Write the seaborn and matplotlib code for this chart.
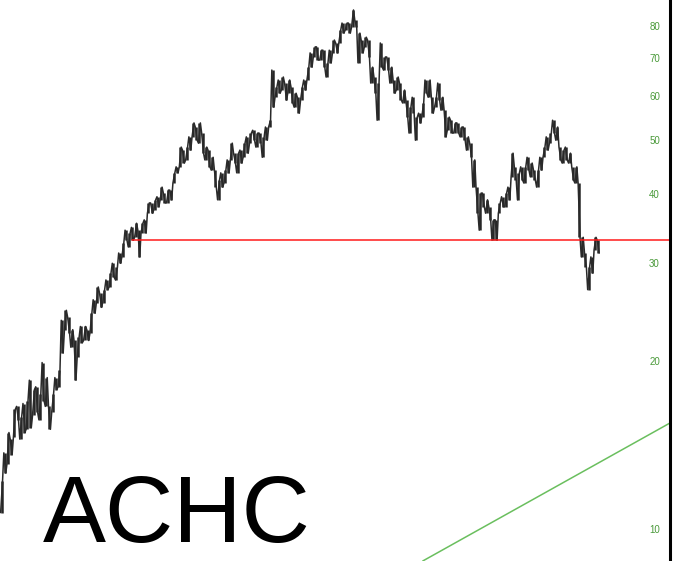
import numpy as np
import pandas as pd
import matplotlib
matplotlib.use("Agg")
import matplotlib.pyplot as plt
from matplotlib.ticker import FixedLocator, NullLocator
import seaborn as sns

# Precio (escala log) - maximos y minimos por barra
highs = [12.2, 13.7, 14.9, 14.5, 16.4, 16.6, 15.9, 16.8, 17.0, 18.5,
         17.8, 18.0, 17.5, 19.9, 18.7, 16.6, 17.5, 18.7, 19.3, 23.7,
         24.7, 24.0, 22.8, 21.8, 22.1, 23.1, 23.1, 22.8, 24.4, 25.8,
         27.2, 26.5, 26.9, 28.0, 28.8, 30.0, 29.5, 31.3, 32.6, 34.4,
         34.0, 34.8, 35.4, 34.4, 35.4, 35.9, 38.5, 38.5, 39.0, 39.5,
         41.1, 40.1, 40.6, 40.6, 43.6, 44.7, 48.5, 47.9, 48.5, 50.6,
         53.6, 52.7, 53.6, 51.4, 48.5, 47.9, 46.5, 44.1, 42.3, 43.6,
         44.1, 46.0, 49.3, 47.3, 47.3, 47.9, 49.3, 50.6, 51.4, 52.0,
         51.4, 51.4, 50.6, 52.7, 54.2, 66.7, 62.2, 64.0, 64.8, 63.2,
         64.0, 62.2, 60.6, 59.6, 62.2, 64.0, 67.5, 71.6, 73.4, 73.4,
         72.4, 72.4, 68.7, 72.4, 75.5, 74.6, 78.7, 81.0, 81.0, 81.0,
         85.5, 82.0, 77.7, 75.5, 76.4, 75.5, 67.5, 64.8, 63.2, 74.6,
         70.4, 70.4, 67.5, 64.0, 64.8, 63.2, 61.4, 58.9, 57.2, 59.6,
         54.9, 55.8, 58.2, 64.0, 64.0, 59.6, 59.6, 63.2, 59.6, 56.5,
         54.9, 54.2, 53.6, 53.6, 52.7, 52.7, 50.6, 49.3, 46.0, 41.1,
         40.1, 40.1, 39.0, 37.9, 35.9, 35.9, 38.5, 39.5, 40.1, 41.1,
         47.3, 44.7, 43.6, 44.7, 44.7, 46.5, 45.4, 44.1, 44.1, 46.5,
         48.5, 50.6, 51.4, 54.2, 52.7, 48.5, 47.9, 48.5, 47.3, 44.7,
         44.7, 41.8, 33.4, 31.3, 29.5, 30.8, 33.4, 33.0]
lows = [10.7, 12.6, 13.1, 13.6, 14.6, 15.7, 14.5, 14.9, 15.1, 15.2,
        16.0, 16.2, 15.7, 17.0, 16.6, 15.1, 16.2, 17.8, 18.0, 20.7,
        22.8, 22.5, 21.2, 18.5, 20.4, 21.6, 21.8, 21.8, 22.5, 24.4,
        25.5, 25.0, 25.5, 26.9, 27.2, 28.3, 28.0, 30.0, 30.8, 33.0,
        32.1, 33.0, 33.4, 30.8, 34.0, 34.0, 36.9, 36.9, 37.4, 37.9,
        39.0, 38.5, 38.5, 39.0, 41.8, 43.6, 44.7, 45.4, 46.0, 47.9,
        50.6, 49.9, 49.3, 47.3, 46.0, 44.7, 44.1, 41.1, 39.0, 41.1,
        41.8, 43.6, 46.0, 45.4, 43.6, 45.4, 46.5, 47.3, 49.3, 49.9,
        48.5, 49.3, 46.5, 49.9, 52.7, 57.2, 59.6, 60.6, 61.4, 58.9,
        60.6, 58.2, 57.2, 55.8, 58.9, 61.4, 64.0, 67.5, 70.4, 69.5,
        69.5, 67.5, 64.8, 68.7, 71.6, 71.6, 74.6, 77.7, 78.7, 77.7,
        79.7, 79.7, 68.7, 71.6, 73.4, 70.4, 63.2, 60.6, 54.2, 67.5,
        66.7, 66.7, 63.2, 60.6, 61.4, 58.9, 58.2, 54.9, 51.4, 55.8,
        49.9, 53.6, 54.9, 60.6, 59.6, 55.8, 57.2, 58.9, 56.5, 50.6,
        52.0, 51.4, 51.4, 51.4, 50.6, 49.9, 47.9, 46.5, 41.1, 36.9,
        34.4, 37.9, 36.9, 35.9, 33.0, 33.0, 36.9, 37.9, 37.9, 39.0,
        42.9, 42.3, 39.0, 42.3, 41.8, 44.1, 42.9, 42.3, 41.1, 44.1,
        46.5, 47.9, 49.3, 51.4, 49.9, 46.0, 45.4, 46.0, 45.4, 42.3,
        41.8, 33.4, 30.8, 29.5, 26.9, 28.8, 31.7, 31.3]

ticker_name = "ACHC"
y_ticks = [10, 20, 30, 40, 50, 60, 70, 80]

# Lineas dibujadas: soporte horizontal y linea de tendencia
support_level = 33.0
support_start = 41
trend_idx = [132, 209.5]
trend_price = [8.76, 15.5]

bars = pd.DataFrame({"idx": np.arange(len(highs)), "high": highs, "low": lows})

sns.set_style("white")
plt.rcParams["font.family"] = ["Liberation Sans", "DejaVu Sans"]

fig = plt.figure(figsize=(6.76, 5.61), dpi=100)
ax = fig.add_axes([0, 0, 670 / 676, 1])

# barras de rango + trazo en zigzag para que se vean continuas como las diarias
ax.vlines(bars["idx"], bars["low"], bars["high"], color="#262626", linewidth=1.8)
zx, zy = [], []
for i, (h, l) in enumerate(zip(highs, lows)):
    pair = (l, h) if i % 2 == 0 else (h, l)
    zx += [i - 0.3, i + 0.3]
    zy += list(pair)
ax.plot(zx, zy, color="#2a2a2a", linewidth=1.1)

x_max = 209.5
sup = pd.DataFrame({"x": [support_start, x_max], "y": [support_level, support_level]})
sns.lineplot(data=sup, x="x", y="y", color="#ff1a1a", linewidth=1.1, ax=ax)

trend = pd.DataFrame({"x": trend_idx, "y": trend_price})
sns.lineplot(data=trend, x="x", y="y", color="#6abf5e", linewidth=1.1, ax=ax)

ax.set_yscale("log")
ax.set_ylim(8.76, 89.1)
ax.set_xlim(-0.5, x_max)

ax.yaxis.set_major_locator(FixedLocator(y_ticks))
ax.yaxis.set_minor_locator(NullLocator())
ax.set_yticklabels([str(t) for t in y_ticks])
ax.yaxis.tick_right()
ax.tick_params(axis="y", length=0, pad=-15, labelsize=7, labelcolor="#4a9a3a")
ax.set_xticks([])
ax.set_xlabel("")
ax.set_ylabel("")

for side in ["top", "left", "bottom"]:
    ax.spines[side].set_visible(False)
ax.spines["right"].set_color("black")
ax.spines["right"].set_linewidth(2.2)

ax.text(43 / 670, 19 / 561, ticker_name, transform=ax.transAxes,
        fontsize=68, color="black", ha="left", va="baseline")

fig.savefig("out.png", dpi=100)
